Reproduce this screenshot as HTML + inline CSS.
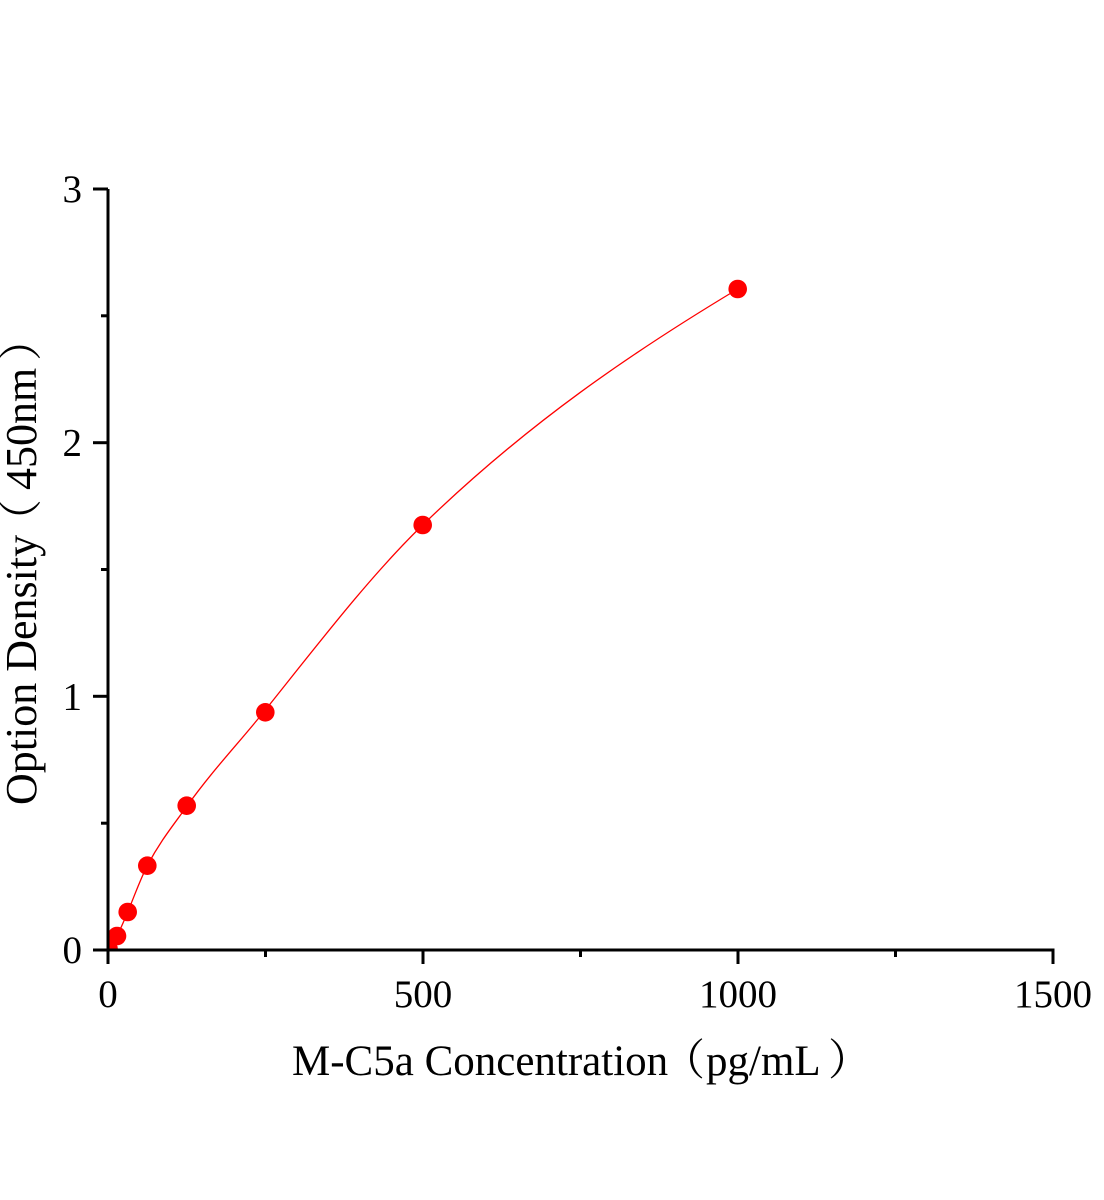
<!DOCTYPE html>
<html>
<head>
<meta charset="utf-8">
<style>
html,body{margin:0;padding:0;background:#fff;}
svg{display:block;}
text{font-family:"Liberation Serif","Noto Serif CJK SC","Noto Sans CJK SC",serif;fill:#000;}
</style>
</head>
<body>
<svg width="1104" height="1200" viewBox="0 0 1104 1200" xmlns="http://www.w3.org/2000/svg">
<defs>
<clipPath id="plot"><rect x="108" y="150" width="960" height="800"/></clipPath>
</defs>
<rect width="1104" height="1200" fill="#fff"/>

<g clip-path="url(#plot)">
<path d="M108,949 C111,945.4 114,942 117,936 C120.57,928.87 124.13,920.56 127.7,912 C134.23,896.32 140.77,878.11 147.3,865.7 C160.43,840.75 173.57,824.89 186.7,806.5 C212.9,769.82 239.1,742.75 265.3,710 C317.77,644.42 370.23,575.89 422.7,525 C527.7,423.15 632.7,352 737.7,289" fill="none" stroke="#ff0000" stroke-width="1.3"/>
<g fill="#ff0000">
<circle cx="108.5" cy="948.5" r="9.3"/>
<circle cx="117" cy="936" r="9.3"/>
<circle cx="127.7" cy="912" r="9.3"/>
<circle cx="147.3" cy="865.7" r="9.3"/>
<circle cx="186.7" cy="805.7" r="9.3"/>
<circle cx="265.3" cy="712.3" r="9.3"/>
<circle cx="422.7" cy="525" r="9.3"/>
<circle cx="737.7" cy="289" r="9.3"/>
</g>
</g>

<g stroke="#000" stroke-width="3" fill="none">
<line x1="108" y1="189" x2="108" y2="951.5"/>
<line x1="106.5" y1="950" x2="1054.5" y2="950"/>
<line x1="93" y1="189" x2="108" y2="189"/>
<line x1="93" y1="442.7" x2="108" y2="442.7"/>
<line x1="93" y1="696.3" x2="108" y2="696.3"/>
<line x1="93" y1="950" x2="108" y2="950"/>
<line x1="101" y1="315.8" x2="108" y2="315.8"/>
<line x1="101" y1="569.5" x2="108" y2="569.5"/>
<line x1="101" y1="823.2" x2="108" y2="823.2"/>
<line x1="108" y1="950" x2="108" y2="964"/>
<line x1="423" y1="950" x2="423" y2="964"/>
<line x1="738" y1="950" x2="738" y2="964"/>
<line x1="1053" y1="950" x2="1053" y2="964"/>
<line x1="265.5" y1="950" x2="265.5" y2="957"/>
<line x1="580.5" y1="950" x2="580.5" y2="957"/>
<line x1="895.5" y1="950" x2="895.5" y2="957"/>
</g>

<g font-size="39" text-anchor="end">
<text x="82" y="202">3</text>
<text x="82" y="455.7">2</text>
<text x="82" y="709.3">1</text>
<text x="82" y="963">0</text>
</g>
<g font-size="39" text-anchor="middle">
<text x="108" y="1007">0</text>
<text x="423" y="1007">500</text>
<text x="738" y="1007">1000</text>
<text x="1053" y="1007">1500</text>
</g>

<g font-size="43">
<text x="292" y="1075">M-C5a Concentration</text>
<text x="662" y="1075">（</text>
<text x="706" y="1075">pg/mL</text>
<text x="828" y="1075">）</text>
</g>

<g font-size="44" transform="translate(36,805) rotate(-90)">
<text x="0" y="0">Option Density</text>
<text x="262" y="0">（</text>
<text x="315" y="0">450nm</text>
<text x="444" y="0">）</text>
</g>
</svg>
</body>
</html>
